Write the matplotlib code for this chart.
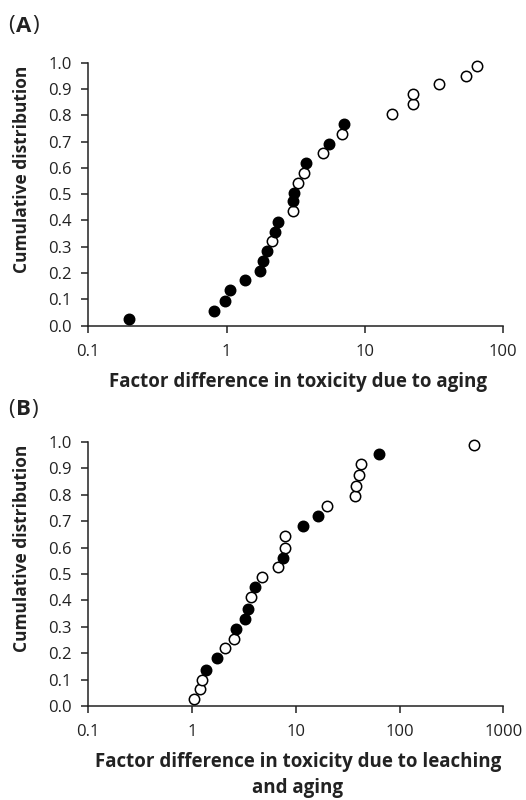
import matplotlib
matplotlib.use("Agg")
import matplotlib.pyplot as plt
from matplotlib.ticker import FixedLocator, FixedFormatter, NullLocator

plt.rcParams['font.family'] = ['Open Sans', 'DejaVu Sans']

# Panel A: aging
a_filled_x = [0.197, 0.81, 0.98, 1.06, 1.36, 1.74, 1.84, 1.95, 2.23, 2.36, 3.03, 3.08, 3.74, 5.52, 7.05]
a_filled_y = [0.027, 0.057, 0.095, 0.135, 0.172, 0.208, 0.247, 0.285, 0.358, 0.396, 0.473, 0.506, 0.618, 0.692, 0.767]
a_open_x = [2.13, 3.03, 3.28, 3.64, 4.94, 6.86, 15.6, 22.1, 22.1, 34.5, 53.4, 64.1]
a_open_y = [0.323, 0.435, 0.544, 0.580, 0.656, 0.730, 0.806, 0.844, 0.880, 0.918, 0.950, 0.987]

# Panel B: leaching and aging
b_filled_x = [1.37, 1.75, 2.64, 3.25, 3.49, 4.05, 7.55, 11.7, 16.3, 62.7]
b_filled_y = [0.137, 0.180, 0.292, 0.330, 0.367, 0.449, 0.562, 0.681, 0.719, 0.953]
b_open_x = [1.05, 1.18, 1.26, 2.07, 2.56, 3.68, 4.73, 6.81, 7.89, 7.89, 19.8, 36.8, 37.9, 40.5, 42.1, 521]
b_open_y = [0.025, 0.063, 0.099, 0.218, 0.255, 0.413, 0.487, 0.525, 0.600, 0.643, 0.757, 0.795, 0.833, 0.876, 0.915, 0.989]

a_xticks = [0.1, 1, 10, 100]
a_xticklabels = ["0.1", "1", "10", "100"]
b_xticks = [0.1, 1, 10, 100, 1000]
b_xticklabels = ["0.1", "1", "10", "100", "1000"]
yticks = [0.0, 0.1, 0.2, 0.3, 0.4, 0.5, 0.6, 0.7, 0.8, 0.9, 1.0]
yticklabels = ["0.0", "0.1", "0.2", "0.3", "0.4", "0.5", "0.6", "0.7", "0.8", "0.9", "1.0"]

TXT = '#222222'
fig = plt.figure(figsize=(5.26, 8.0), dpi=100)
W, H = 526, 800

def make_axes(left, top, right, bottom):
    return fig.add_axes([left / W, 1 - bottom / H, (right - left) / W, (bottom - top) / H])

axA = make_axes(88.3, 62.7, 503.3, 325.7)
axB = make_axes(88.3, 442.0, 503.3, 706.0)

def style(ax, xticks, xlabels, xlim, xlabel, xlabel_top_px, ylabel_center_px, top_px, bottom_px):
    ax.set_xscale('log')
    ax.set_xlim(*xlim)
    ax.set_ylim(0, 1.0)
    ax.xaxis.set_major_locator(FixedLocator(xticks))
    ax.xaxis.set_major_formatter(FixedFormatter(xlabels))
    ax.xaxis.set_minor_locator(NullLocator())
    ax.yaxis.set_major_locator(FixedLocator(yticks))
    ax.yaxis.set_major_formatter(FixedFormatter(yticklabels))
    for s in ['top', 'right']:
        ax.spines[s].set_visible(False)
    for s in ['left', 'bottom']:
        ax.spines[s].set_linewidth(1.1)
        ax.spines[s].set_color(TXT)
    ax.tick_params(axis='both', direction='out', length=5, width=1.1, color=TXT,
                   labelsize=12, labelcolor=TXT)
    ax.tick_params(axis='y', pad=7)
    ax.tick_params(axis='x', pad=8)
    ax.set_ylabel('Cumulative distribution', fontsize=12.5, fontweight='bold', color=TXT,
                  va='center', ha='center')
    ax.set_xlabel(xlabel, fontsize=13.5, fontweight='bold', color=TXT, linespacing=1.4,
                  va='top', ha='center')
    hpx = bottom_px - top_px
    ax.yaxis.set_label_coords((22.5 - 88.3) / 415.0, (bottom_px - ylabel_center_px) / hpx)
    ax.xaxis.set_label_coords(0.5 + (298 - 295.8) / 415.0, -(xlabel_top_px - bottom_px) / hpx)

style(axA, a_xticks, a_xticklabels, (0.1, 100), 'Factor difference in toxicity due to aging',
      372, 169, 62.7, 325.7)
style(axB, b_xticks, b_xticklabels, (0.1, 1000), 'Factor difference in toxicity due to leaching\nand aging',
      752, 548.5, 442.0, 706.0)

ms = 56
for ax, fx, fy, ox, oy in [(axA, a_filled_x, a_filled_y, a_open_x, a_open_y),
                           (axB, b_filled_x, b_filled_y, b_open_x, b_open_y)]:
    ax.scatter(ox, oy, s=ms, facecolor='white', edgecolor='black', linewidth=1.1, zorder=3, clip_on=False)
    ax.scatter(fx, fy, s=ms, facecolor='black', edgecolor='black', linewidth=1.1, zorder=4, clip_on=False)

fig.canvas.draw()
renderer = fig.canvas.get_renderer()

def panel_label(y, letter):
    x = 8
    t1 = fig.text(x / W, 1 - y / H, '(', fontsize=16, color=TXT, va='center', ha='left')
    x = t1.get_window_extent(renderer).x1 + 1
    t2 = fig.text(x / W, 1 - y / H, letter, fontsize=16, fontweight='bold', color=TXT, va='center', ha='left')
    x = t2.get_window_extent(renderer).x1 + 1
    fig.text(x / W, 1 - y / H, ')', fontsize=16, color=TXT, va='center', ha='left')

panel_label(26, 'A')
panel_label(410, 'B')

fig.savefig('out.png', dpi=100)
